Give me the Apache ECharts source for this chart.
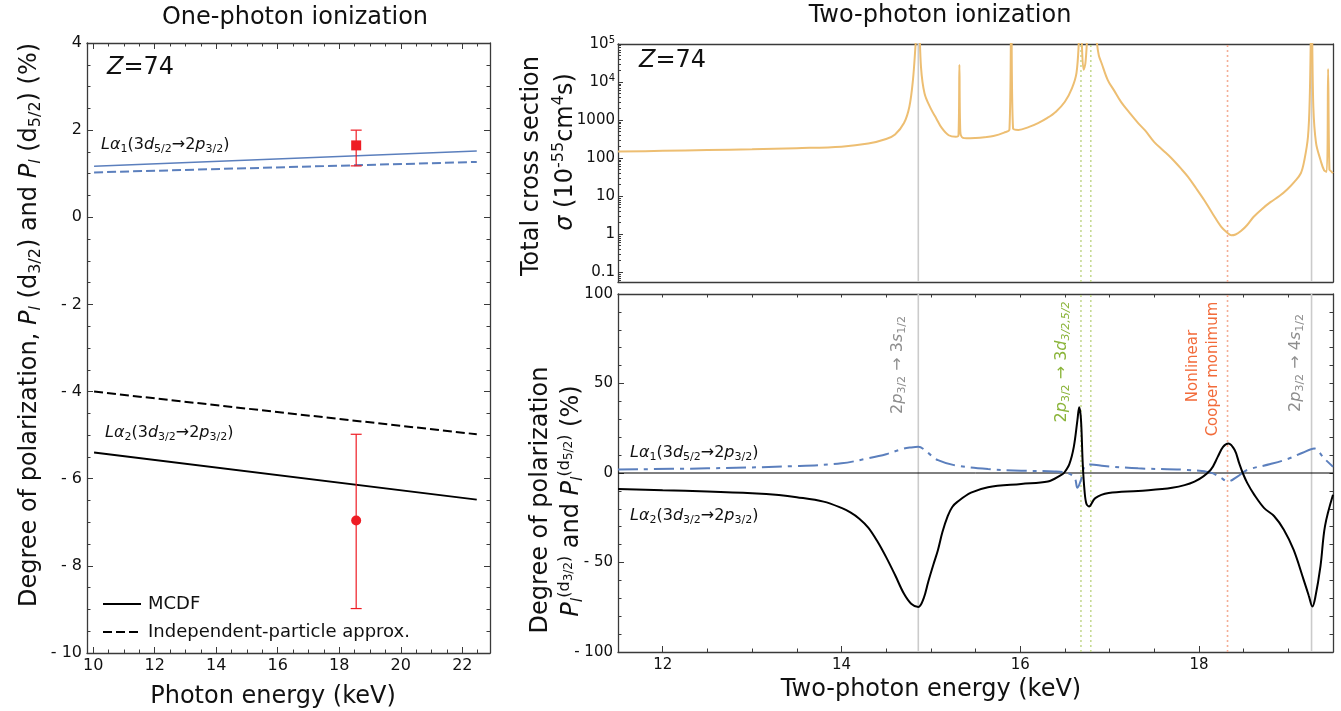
<!DOCTYPE html>
<html><head><meta charset="utf-8">
<script src="https://cdn.jsdelivr.net/npm/echarts@6/dist/echarts.min.js"></script>
<style>html,body{margin:0;padding:0;background:#fff}#c{width:1341px;height:711px}</style>
</head><body><div id="c"></div>
<script>
// ---------------- data ----------------
// One-photon ionization (left panel)
const onePhotonEnergy = [10.03, 22.47];
const la1MCDF = [1.17, 1.52];
const la1IPA  = [1.03, 1.27];
const la2MCDF = [-5.40, -6.48];
const la2IPA  = [-4.00, -4.98];
const expEnergy = [18.55];
const expLa1 = [1.65];  const expLa1Err = [1.18, 2.00];
const expLa2 = [-6.96]; const expLa2Err = [-8.98, -4.98];
const oneXTicks = [10, 12, 14, 16, 18, 20, 22];
const oneYTicks = [-10, -8, -6, -4, -2, 0, 2, 4];

// Two-photon total cross section (log10 of sigma in 1e-55 cm^4 s)
const sigmaEnergy = [11.5,12.0,12.5,13.0,13.5,14.0,14.3,14.5,14.6,14.7,14.76,14.8,14.83,14.86,14.89,14.93,
  15.0,15.06,15.12,15.2,15.28,15.31,15.32,15.33,15.36,15.4,15.5,15.6,15.7,15.82,15.88,15.9,15.92,15.98,
  16.1,16.2,16.3,16.4,16.5,16.58,16.63,16.66,16.68,16.69,16.71,16.73,16.75,16.77,16.82,16.86,16.88,16.91,16.98,
  17.05,17.13,17.22,17.32,17.4,17.5,17.6,17.69,17.8,17.88,17.97,18.06,18.15,18.25,18.32,18.36,18.41,18.47,18.54,
  18.61,18.7,18.8,18.9,18.99,19.07,19.14,19.18,19.22,19.24,19.26,19.28,19.31,19.36,19.4,19.43,19.445,19.46,19.48,19.5];
const sigmaLog10 = [2.17,2.19,2.21,2.23,2.26,2.30,2.38,2.5,2.62,2.92,3.35,4.05,5.0,6.0,4.4,3.7,
  3.3,3.05,2.8,2.6,2.56,2.6,4.45,2.7,2.53,2.52,2.53,2.55,2.58,2.67,2.75,6.0,2.78,2.74,
  2.82,2.92,3.05,3.22,3.48,3.84,4.24,5.2,6.0,5.0,4.32,4.5,5.2,6.0,6.0,5.0,4.7,4.5,4.05,
  3.78,3.47,3.2,2.92,2.72,2.42,2.2,2.0,1.72,1.5,1.2,0.89,0.55,0.19,0.03,-0.03,-0.01,0.08,0.24,
  0.45,0.65,0.84,1.0,1.18,1.38,1.6,1.95,2.56,3.6,6.0,3.35,2.4,1.95,1.68,1.64,4.34,1.7,1.65,1.6];
const sigmaTicks = [-1, 0, 1, 2, 3, 4, 5];
const sigmaTickLabels = ['0.1', '1', '10', '100', '1000', '10{sup|4}', '10{sup|5}'];

// Two-photon degree of polarization
const polEnergyLa2 = [11.5,12.0,12.5,13.0,13.3,13.5,13.8,14.0,14.1,14.2,14.3,14.4,14.5,14.6,14.7,14.78,14.86,14.92,14.97,15.03,15.08,15.13,15.19,15.24,15.3,15.45,
  15.64,16.01,16.31,16.46,16.49,16.55,16.6,16.64,16.66,16.68,16.7,16.72,16.74,16.77,16.84,16.99,17.32,17.7,17.95,18.13,
  18.21,18.27,18.33,18.4,18.45,18.49,18.54,18.62,18.73,18.84,18.95,19.06,19.17,19.23,19.27,19.3,19.36,19.41,19.5];
const polLa2 = [-8.9,-9.6,-10.3,-11.3,-12.3,-13.5,-16,-19.5,-22,-25.5,-30.5,-38,-47,-57,-67.5,-73,-74.8,-70,-61,-51,-43,-33,-24,-19,-16,-11,
  -7.9,-6.1,-4.8,-1.1,0,5,14.6,29.4,36.8,30,5,-10,-17,-18.7,-14,-11.2,-10,-8.3,-4.8,1.7,
  9,14.6,16.5,12.8,5.5,0,-5.5,-12.2,-19.6,-24,-31.7,-43,-59.4,-68.7,-74.6,-70,-52,-29.8,-12.2];
const polEnergyLa1 = [11.5,12.5,13.5,14.0,14.3,14.5,14.7,14.78,14.86,14.93,15.0,15.08,15.26,15.64,16.01,16.38,16.53,16.61,16.64,16.68,
  16.72,16.79,16.94,17.32,17.87,18.13,18.25,18.32,18.43,18.54,18.8,18.99,19.16,19.29,19.4,19.5];
const polLa1 = [2.0,2.6,3.9,5.4,8.2,10.5,13.7,14.3,14.6,13,10,7.2,4.4,2.2,1.3,0.9,0,-2.8,-8.3,-3.9,
  3.5,4.8,3.9,2.6,1.7,0.2,-2.8,-4.8,-2,1.7,5,7.8,11.3,13.7,8.2,3.5];
const resonanceEnergy = [14.86, 16.68, 16.79, 18.32, 19.26];
const twoXTicks = [12, 14, 16, 18];
const polTicks = [-100, -50, 0, 50, 100];

// ---------------- styles ----------------
const F = 'DejaVu Sans';
const FRAME = '#3a3a3a';
const BLUE = '#5B7FBD', ORANGE = '#EDBE72', RED = '#EE1C24';
const REF_STYLES = [
  {stroke: '#CBCBCB', lineWidth: 1.6},
  {stroke: '#C6DA92', lineWidth: 1.6, lineDash: [2, 3]},
  {stroke: '#C6DA92', lineWidth: 1.6, lineDash: [2, 3]},
  {stroke: '#F4AE96', lineWidth: 1.6, lineDash: [2, 3]},
  {stroke: '#CBCBCB', lineWidth: 1.6}
];

function range(a, b, s) { const r = []; for (let v = a; v <= b + 1e-9; v += s) r.push(+v.toFixed(4)); return r; }
const logMinor = [];
for (let n = -2; n <= 4; n++) for (let k = 2; k <= 9; k++) { const v = n + Math.log10(k); if (v > -1.26 && v < 5) logMinor.push(v); }
const pairs = (xs, ys) => xs.map((x, i) => [x, ys[i]]);
const minusFmt = v => v < 0 ? '- ' + Math.abs(v) : String(v);

function ax(grid, pos, min, max, o) {
  o = o || {};
  return {
    type: 'value', gridIndex: grid, position: pos, min: min, max: max,
    axisLine: {show: !!o.line, onZero: false, lineStyle: {color: FRAME, width: 1.3}},
    axisTick: o.ticks ? {show: true, inside: true, length: o.len || 6, customValues: o.ticks, lineStyle: {color: FRAME, width: 1}} : {show: false},
    axisLabel: o.labels ? Object.assign({show: true, customValues: o.labels, fontFamily: F, fontSize: o.fs || 16, color: '#111', margin: o.margin || 6}, o.labelExtra || {}) : {show: false},
    splitLine: {show: false}, minorTick: {show: false}, minorSplitLine: {show: false}
  };
}

function richSet(base, color) {
  const sub = Math.round(base * 0.66);
  const mk = e => Object.assign({fontFamily: F, fill: color}, e);
  return {
    n: mk({fontSize: base}),
    i: mk({fontSize: base, fontStyle: 'italic'}),
    s: mk({fontSize: sub, padding: [Math.round(base * 0.5), 0, 0, 0]}),
    si: mk({fontSize: sub, fontStyle: 'italic', padding: [Math.round(base * 0.5), 0, 0, 0]}),
    p: mk({fontSize: sub, padding: [0, 0, Math.round(base * 0.6), 0]}),
    ps: mk({fontSize: Math.round(base * 0.5), padding: [0, 0, Math.round(base * 0.25), 0]})
  };
}
function txt(x, y, text, o) {
  o = o || {};
  const size = o.size || 16, color = o.color || '#111';
  return {
    type: 'text', x: x, y: y, rotation: o.rot || 0, z: 100,
    style: {text: text, fontFamily: F, fontSize: size, fill: color, fontStyle: o.italic ? 'italic' : 'normal',
      align: o.align || 'center', verticalAlign: 'middle', rich: richSet(size, color)}
  };
}
function legendLine(y, dash) {
  return {type: 'line', z: 100, shape: {x1: 103, y1: y, x2: 141, y2: y},
    style: {stroke: '#000', lineWidth: 2.2, lineDash: dash || null}};
}

function refSeries(xi, yi, y0, y1) {
  return {
    type: 'custom', xAxisIndex: xi, yAxisIndex: yi, z: 1, silent: true,
    data: resonanceEnergy.map((e, i) => [e, i]),
    renderItem: (p, api) => {
      const e = api.value(0), k = api.value(1);
      const a = api.coord([e, y0]), b = api.coord([e, y1]);
      return {type: 'line', shape: {x1: a[0], y1: a[1], x2: b[0], y2: b[1]}, style: REF_STYLES[k]};
    }
  };
}

const la1Label = '{i|Lα}{s|1}{n|(3}{i|d}{s|5/2}{n|→2}{i|p}{s|3/2}{n|)}';
const la2Label = '{i|Lα}{s|2}{n|(3}{i|d}{s|3/2}{n|→2}{i|p}{s|3/2}{n|)}';

const chart = echarts.init(document.getElementById('c'));
chart.setOption({
  animation: false,
  backgroundColor: '#fff',
  grid: [
    {left: 87, top: 43, width: 403, height: 610},
    {left: 618, top: 44, width: 715, height: 238},
    {left: 618, top: 294, width: 715, height: 358}
  ],
  xAxis: [
    ax(0, 'bottom', 9.8, 22.9, {line: true, ticks: oneXTicks, labels: oneXTicks, fs: 16, margin: 5}),   // 0
    ax(0, 'bottom', 9.8, 22.9, {ticks: range(10, 22.5, 0.5), len: 3.5}),                              // 1
    ax(0, 'top', 9.8, 22.9, {line: true, ticks: oneXTicks}),                                          // 2
    ax(0, 'top', 9.8, 22.9, {ticks: range(10, 22.5, 0.5), len: 3.5}),                                 // 3
    ax(1, 'bottom', 11.5, 19.5, {line: true}),                                                        // 4
    ax(1, 'top', 11.5, 19.5, {line: true}),                                                           // 5
    ax(2, 'bottom', 11.5, 19.5, {line: true, ticks: twoXTicks, labels: twoXTicks, fs: 15, margin: 6}),// 6
    ax(2, 'bottom', 11.5, 19.5, {ticks: range(11.5, 19.5, 0.5), len: 3.5}),                           // 7
    ax(2, 'top', 11.5, 19.5, {line: true, ticks: range(11.5, 19.5, 0.5), len: 3.5})                   // 8
  ],
  yAxis: [
    ax(0, 'left', -10, 4, {line: true, ticks: oneYTicks, labels: oneYTicks, fs: 16, margin: 5, labelExtra: {formatter: minusFmt}}), // 0
    ax(0, 'left', -10, 4, {ticks: range(-10, 4, 0.5), len: 3.5}),                                     // 1
    ax(0, 'right', -10, 4, {line: true, ticks: oneYTicks}),                                           // 2
    ax(0, 'right', -10, 4, {ticks: range(-10, 4, 0.5), len: 3.5}),                                    // 3
    ax(1, 'left', -1.26, 5, {line: true, ticks: sigmaTicks, labels: sigmaTicks, fs: 15, margin: 3, len: 5,
      labelExtra: {formatter: v => sigmaTickLabels[sigmaTicks.indexOf(Math.round(v))],
        rich: {sup: {fontFamily: F, fontSize: 10, color: '#111', padding: [0, 0, 8, 0]}}}}),          // 4
    ax(1, 'left', -1.26, 5, {ticks: logMinor, len: 3}),                                               // 5
    ax(1, 'right', -1.26, 5, {line: true}),                                                           // 6
    ax(2, 'left', -100, 100, {line: true, ticks: polTicks, labels: polTicks, fs: 15, margin: 5, labelExtra: {formatter: minusFmt}}), // 7
    ax(2, 'left', -100, 100, {ticks: range(-100, 100, 10), len: 3.5}),                                // 8
    ax(2, 'right', -100, 100, {line: true, ticks: range(-100, 100, 10), len: 3.5})                    // 9
  ],
  series: [
    {type: 'line', name: 'MCDF Lα1', xAxisIndex: 0, yAxisIndex: 0, data: pairs(onePhotonEnergy, la1MCDF), symbol: 'none',
      lineStyle: {color: BLUE, width: 1.4}, itemStyle: {color: BLUE}, z: 3},
    {type: 'line', name: 'IPA Lα1', xAxisIndex: 0, yAxisIndex: 0, data: pairs(onePhotonEnergy, la1IPA), symbol: 'none',
      lineStyle: {color: BLUE, width: 2, type: [9, 4]}, itemStyle: {color: BLUE}, z: 3},
    {type: 'line', name: 'MCDF', xAxisIndex: 0, yAxisIndex: 0, data: pairs(onePhotonEnergy, la2MCDF), symbol: 'none',
      lineStyle: {color: '#000', width: 2}, itemStyle: {color: '#000'}, z: 3},
    {type: 'line', name: 'Independent-particle approx.', xAxisIndex: 0, yAxisIndex: 0, data: pairs(onePhotonEnergy, la2IPA), symbol: 'none',
      lineStyle: {color: '#000', width: 2, type: [9, 4]}, itemStyle: {color: '#000'}, z: 3},
    {type: 'custom', name: 'errors', xAxisIndex: 0, yAxisIndex: 0, z: 4, silent: true,
      data: [[expEnergy[0], expLa1Err[0], expLa1Err[1]], [expEnergy[0], expLa2Err[0], expLa2Err[1]]],
      encode: {x: 0, y: [1, 2]},
      renderItem: (p, api) => {
        const x = api.value(0), lo = api.coord([x, api.value(1)]), hi = api.coord([x, api.value(2)]);
        const st = {stroke: RED, lineWidth: 1.2}, c = 5.5;
        return {type: 'group', children: [
          {type: 'line', shape: {x1: lo[0], y1: lo[1], x2: hi[0], y2: hi[1]}, style: st},
          {type: 'line', shape: {x1: lo[0] - c, y1: lo[1], x2: lo[0] + c, y2: lo[1]}, style: st},
          {type: 'line', shape: {x1: hi[0] - c, y1: hi[1], x2: hi[0] + c, y2: hi[1]}, style: st}
        ]};
      }},
    {type: 'scatter', name: 'exp Lα1', xAxisIndex: 0, yAxisIndex: 0, data: pairs(expEnergy, expLa1), symbol: 'rect', symbolSize: 10,
      itemStyle: {color: RED, opacity: 1}, z: 5},
    {type: 'scatter', name: 'exp Lα2', xAxisIndex: 0, yAxisIndex: 0, data: pairs(expEnergy, expLa2), symbol: 'circle', symbolSize: 10,
      itemStyle: {color: RED, opacity: 1}, z: 5},

    refSeries(4, 4, -1.26, 5),
    {type: 'line', name: 'sigma', xAxisIndex: 4, yAxisIndex: 4, data: pairs(sigmaEnergy, sigmaLog10), symbol: 'none', smooth: 0.35,
      lineStyle: {color: ORANGE, width: 2}, itemStyle: {color: ORANGE}, z: 3, clip: true},

    refSeries(6, 7, -100, 100),
    {type: 'line', name: 'zero', xAxisIndex: 6, yAxisIndex: 7, data: [[11.5, 0], [19.5, 0]], symbol: 'none',
      lineStyle: {color: '#000', width: 1}, z: 2},
    {type: 'line', name: 'P La1', xAxisIndex: 6, yAxisIndex: 7, data: pairs(polEnergyLa1, polLa1), symbol: 'none', smooth: 0.35,
      lineStyle: {color: BLUE, width: 2, type: [20, 6, 4, 6]}, itemStyle: {color: BLUE}, z: 3, clip: true},
    {type: 'line', name: 'P La2', xAxisIndex: 6, yAxisIndex: 7, data: pairs(polEnergyLa2, polLa2), symbol: 'none', smooth: 0.35,
      lineStyle: {color: '#000', width: 2}, itemStyle: {color: '#000'}, z: 4, clip: true}
  ],
  graphic: [
    txt(295, 18, 'One-photon ionization', {size: 24}),
    txt(940, 16, 'Two-photon ionization', {size: 24}),
    txt(273, 697, 'Photon energy (keV)', {size: 24}),
    txt(931, 690, 'Two-photon energy (keV)', {size: 24}),
    txt(30, 325, 'Degree of polarization, {i|P}{si|l}{n| (d}{s|3/2}{n|) and }{i|P}{si|l}{n| (d}{s|5/2}{n|) (%)}', {size: 24, rot: Math.PI / 2}),
    txt(532, 166, 'Total cross section', {size: 24, rot: Math.PI / 2}),
    txt(566, 152, '{i|σ}{n| (10}{p|-55}{n|cm}{p|4}{n|s)}', {size: 24, rot: Math.PI / 2}),
    txt(541, 500, 'Degree of polarization', {size: 24, rot: Math.PI / 2}),
    txt(572, 501, '{i|P}{si|l}{p|(d}{ps|3/2}{p|)}{n| and }{i|P}{si|l}{p|(d}{ps|5/2}{p|)}{n| (%)}', {size: 24, rot: Math.PI / 2}),
    txt(107, 68, '{i|Z}{n|=74}', {size: 24, align: 'left'}),
    txt(639, 61, '{i|Z}{n|=74}', {size: 24, align: 'left'}),
    txt(101, 145, la1Label, {size: 16, align: 'left'}),
    txt(105, 433, la2Label, {size: 16, align: 'left'}),
    txt(630, 453, la1Label, {size: 16, align: 'left'}),
    txt(630, 516, la2Label, {size: 16, align: 'left'}),
    txt(898, 365, '{n|2}{i|p}{s|3/2}{n| → 3}{i|s}{s|1/2}', {size: 16, color: '#8E8E8E', rot: Math.PI / 2}),
    txt(1062, 362, '{n|2}{i|p}{s|3/2}{n| → 3}{i|d}{si|3/2,5/2}', {size: 16, color: '#8AB439', rot: Math.PI / 2}),
    txt(1193, 366, 'Nonlinear', {size: 15, color: '#F26B3A', rot: Math.PI / 2}),
    txt(1213, 369, 'Cooper monimum', {size: 15, color: '#F26B3A', rot: Math.PI / 2}),
    txt(1296, 363, '{n|2}{i|p}{s|3/2}{n| → 4}{i|s}{s|1/2}', {size: 16, color: '#8E8E8E', rot: Math.PI / 2}),
    legendLine(604),
    legendLine(632, [9, 4]),
    txt(148, 604, 'MCDF', {size: 18, align: 'left'}),
    txt(148, 632, 'Independent-particle approx.', {size: 18, align: 'left'})
  ]
});
</script>
</body></html>
